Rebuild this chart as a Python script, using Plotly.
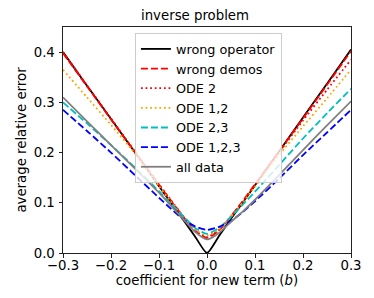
import plotly.graph_objects as go

b = [-0.3, -0.25, -0.2, -0.15, -0.1, -0.075, -0.05, -0.025, 0.0,
     0.025, 0.05, 0.075, 0.1, 0.15, 0.2, 0.25, 0.3]

wrong_operator = [0.4, 0.333, 0.267, 0.2, 0.133, 0.1, 0.067, 0.033, 0.0,
                  0.034, 0.068, 0.101, 0.135, 0.202, 0.27, 0.337, 0.405]
wrong_demos = [0.398, 0.332, 0.266, 0.201, 0.136, 0.104, 0.073, 0.045, 0.03,
               0.045, 0.073, 0.104, 0.137, 0.202, 0.268, 0.335, 0.402]
ode_2 = [0.4, 0.334, 0.268, 0.202, 0.137, 0.105, 0.074, 0.046, 0.032,
         0.046, 0.073, 0.103, 0.135, 0.2, 0.264, 0.325, 0.385]
ode_12 = [0.365, 0.31, 0.255, 0.198, 0.133, 0.102, 0.072, 0.047, 0.035,
          0.047, 0.072, 0.101, 0.132, 0.195, 0.252, 0.308, 0.365]
ode_23 = [0.3, 0.258, 0.215, 0.17, 0.123, 0.098, 0.074, 0.05, 0.038,
          0.05, 0.072, 0.097, 0.122, 0.175, 0.228, 0.278, 0.327]
ode_123 = [0.285, 0.243, 0.2, 0.155, 0.11, 0.088, 0.067, 0.053, 0.046,
           0.052, 0.064, 0.082, 0.103, 0.148, 0.195, 0.24, 0.285]
all_data = [0.31, 0.262, 0.215, 0.168, 0.12, 0.094, 0.068, 0.042, 0.027,
            0.04, 0.062, 0.083, 0.106, 0.155, 0.205, 0.254, 0.302]

x_ticks = [-0.3, -0.2, -0.1, 0.0, 0.1, 0.2, 0.3]
x_tick_text = ["\u22120.3", "\u22120.2", "\u22120.1", "0.0", "0.1", "0.2", "0.3"]
y_ticks = [0.0, 0.1, 0.2, 0.3, 0.4]
y_tick_text = ["0.0", "0.1", "0.2", "0.3", "0.4"]

FONT = "DejaVu Sans"
FS = 13.3
LW = 1.8
DASH = "7px,3px"
DOT = "1.8px,2.8px"

series = [
    ("wrong operator", wrong_operator, "#000000", "solid"),
    ("wrong demos", wrong_demos, "#ff0000", DASH),
    ("ODE 2", ode_2, "#ff0000", DOT),
    ("ODE 1,2", ode_12, "#ffa500", DOT),
    ("ODE 2,3", ode_23, "#00bfbf", DASH),
    ("ODE 1,2,3", ode_123, "#0000ff", DASH),
    ("all data", all_data, "#808080", "solid"),
]

fig = go.Figure()
for name, ys, color, dash in series:
    fig.add_trace(go.Scatter(
        x=b, y=ys, mode="lines", name=name,
        line=dict(color=color, width=LW, dash=dash, shape="spline", smoothing=0.6),
    ))

axis_common = dict(
    showgrid=False, zeroline=False, showline=True, mirror=True,
    linecolor="#222222", linewidth=1, ticks="outside", ticklen=3.5,
    tickcolor="#222222", tickwidth=1,
    tickfont=dict(family=FONT, size=FS, color="#000000"),
)

# page body has an 8px default margin, so the figure is drawn 8px smaller
fig.update_layout(
    width=366, height=290,
    margin=dict(l=50, r=21, t=19, b=45),
    paper_bgcolor="white", plot_bgcolor="white",
    font=dict(family=FONT, size=FS, color="#000000"),
    title=dict(text="inverse problem", x=0.5 + (58 - 50) / 366 / 2, xanchor="center",
               y=1 - 7 / 290, yanchor="middle",
               font=dict(family=FONT, size=FS, color="#000000")),
    xaxis=dict(range=[-0.3, 0.3], tickvals=x_ticks, ticktext=x_tick_text,
               ticklabelstandoff=-3,
               title=dict(text="coefficient for new term (<i>b</i>)", standoff=1,
                          font=dict(family=FONT, size=FS)),
               **axis_common),
    yaxis=dict(range=[0, 0.45], tickvals=y_ticks, ticktext=y_tick_text,
               ticklabelstandoff=1,
               title=dict(text="average relative error", standoff=4,
                          font=dict(family=FONT, size=FS)),
               **axis_common),
    legend=dict(x=0.505, xanchor="center", y=0.973, yanchor="top",
                bgcolor="rgba(255,255,255,0.8)", bordercolor="#cccccc",
                borderwidth=1, font=dict(family=FONT, size=12.8),
                tracegroupgap=0, itemwidth=30),
    showlegend=True,
)

fig.write_html("out.html")
